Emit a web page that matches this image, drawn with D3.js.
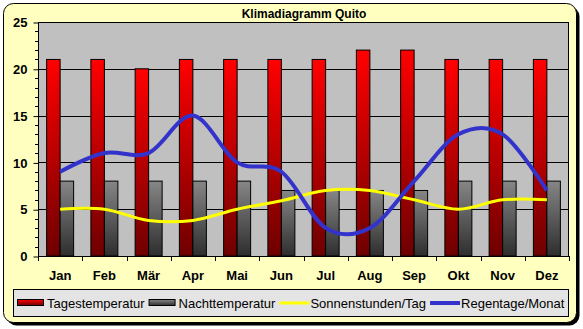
<!DOCTYPE html>
<html>
<head>
<meta charset="utf-8">
<script src="https://cdn.jsdelivr.net/npm/d3@7"></script>
<style>
  body { margin: 0; background: #ffffff; }
  svg text { font-family: "Liberation Sans", Arial, sans-serif; }
</style>
</head>
<body>
<div id="plot"></div>
<script>
var width = 583;
var height = 329;

// data
var months = ['Jan', 'Feb', 'Mär', 'Apr', 'Mai', 'Jun', 'Jul', 'Aug', 'Sep', 'Okt', 'Nov', 'Dez'];
var tagestemp = [21, 21, 20, 21, 21, 21, 21, 22, 22, 21, 21, 21];
var nachttemp = [8, 8, 8, 8, 8, 7, 7, 7, 7, 8, 8, 8];
var sonne = [5, 5, 3.8, 3.8, 5, 5.9, 7, 7, 6, 5, 6, 6];
var regen = [9, 11, 11, 15, 10, 9, 3, 3, 8, 13, 13, 7];
var yTicks = [0, 5, 10, 15, 20, 25];
var seriesNames = ['Tagestemperatur', 'Nachttemperatur', 'Sonnenstunden/Tag', 'Regentage/Monat'];

var plot = { left: 38, right: 569, top: 22, bottom: 256 };

var canvas = d3.select('#plot')
    .append('svg')
    .attr('width', width)
    .attr('height', height);

var defs = canvas.append('defs');
function vgrad(id, c1, c2) {
    var g = defs.append('linearGradient').attr('id', id)
        .attr('x1', 0).attr('y1', 0).attr('x2', 0).attr('y2', 1);
    g.append('stop').attr('offset', '0%').attr('stop-color', c1);
    g.append('stop').attr('offset', '100%').attr('stop-color', c2);
}
vgrad('gradRed', '#ff0000', '#6e0000');
vgrad('gradGrey', '#868686', '#2e2e2e');

// outer frame with shadow
canvas.append('rect')
    .attr('x', 6.5).attr('y', 6.5)
    .attr('width', 573).attr('height', 319)
    .attr('rx', 10)
    .attr('fill', '#000000');
canvas.append('rect')
    .attr('x', 3.5).attr('y', 3.5)
    .attr('width', 573).attr('height', 319)
    .attr('rx', 10)
    .attr('fill', '#ffffc0')
    .attr('stroke', '#000000')
    .attr('stroke-width', 1);

// title
canvas.append('text')
    .attr('x', 304).attr('y', 18)
    .attr('text-anchor', 'middle')
    .attr('font-size', 12)
    .attr('font-weight', 'bold')
    .text('Klimadiagramm Quito');

var x = d3.scaleBand()
    .domain(months)
    .range([plot.left, plot.right])
    .padding(0);

var y = d3.scaleLinear()
    .domain([0, 25])
    .range([plot.bottom, plot.top]);

// plot area
canvas.append('rect')
    .attr('x', plot.left).attr('y', plot.top)
    .attr('width', plot.right - plot.left)
    .attr('height', plot.bottom - plot.top)
    .attr('fill', '#c0c0c0');

// gridlines
canvas.selectAll('line.grid')
    .data(yTicks.slice(1, -1))
    .enter()
    .append('line')
    .attr('class', 'grid')
    .attr('x1', plot.left).attr('x2', plot.right)
    .attr('y1', function(d) { return Math.round(y(d)) + 0.5; })
    .attr('y2', function(d) { return Math.round(y(d)) + 0.5; })
    .attr('stroke', '#000000')
    .attr('stroke-width', 1);

var barW = 13.5;

// bars
canvas.selectAll('rect.tag')
    .data(tagestemp)
    .enter()
    .append('rect')
    .attr('class', 'tag')
    .attr('x', function(d, i) { return x(months[i]) + x.bandwidth() / 2 - barW; })
    .attr('y', function(d) { return y(d); })
    .attr('width', barW)
    .attr('height', function(d) { return y(0) - y(d); })
    .attr('fill', 'url(#gradRed)')
    .attr('stroke', '#000000')
    .attr('stroke-width', 1);

canvas.selectAll('rect.nacht')
    .data(nachttemp)
    .enter()
    .append('rect')
    .attr('class', 'nacht')
    .attr('x', function(d, i) { return x(months[i]) + x.bandwidth() / 2; })
    .attr('y', function(d) { return y(d); })
    .attr('width', barW)
    .attr('height', function(d) { return y(0) - y(d); })
    .attr('fill', 'url(#gradGrey)')
    .attr('stroke', '#000000')
    .attr('stroke-width', 1);

// smoothed lines
var line_gen = d3.line()
    .curve(d3.curveCardinal.tension(0))
    .x(function(d, i) { return x(months[i]) + x.bandwidth() / 2; })
    .y(function(d) { return y(d); });

canvas.append('path')
    .attr('d', line_gen(sonne))
    .attr('fill', 'none')
    .attr('stroke', '#ffff00')
    .attr('stroke-width', 3);

canvas.append('path')
    .attr('d', line_gen(regen))
    .attr('fill', 'none')
    .attr('stroke', '#3333cc')
    .attr('stroke-width', 4);

// plot border
canvas.append('rect')
    .attr('x', plot.left + 0.5).attr('y', plot.top + 0.5)
    .attr('width', plot.right - plot.left - 1)
    .attr('height', plot.bottom - plot.top)
    .attr('fill', 'none')
    .attr('stroke', '#000000')
    .attr('stroke-width', 1);

// y axis
var yAxis = d3.axisLeft(y)
    .tickValues(yTicks)
    .tickSize(5)
    .tickPadding(6)
    .tickFormat(d3.format('d'));
var yg = canvas.append('g')
    .attr('transform', 'translate(' + (plot.left + 0.5) + ',0.5)')
    .call(yAxis);
yg.select('.domain').remove();
yg.selectAll('text')
    .attr('font-size', 13)
    .attr('font-weight', 'bold')
    .attr('font-family', '"Liberation Sans", Arial, sans-serif')
    .attr('fill', '#000000');
yg.selectAll('line').attr('stroke', '#000000');

var minorTicks = d3.range(0, 26).filter(function(d) { return d % 5 !== 0; });
canvas.selectAll('line.minor')
    .data(minorTicks)
    .enter()
    .append('line')
    .attr('class', 'minor')
    .attr('x1', plot.left - 3).attr('x2', plot.left)
    .attr('y1', function(d) { return Math.round(y(d)) + 0.5; })
    .attr('y2', function(d) { return Math.round(y(d)) + 0.5; })
    .attr('stroke', '#000000');

// x axis
var xAxis = d3.axisBottom(x).tickSize(0).tickPadding(14);
var xg = canvas.append('g')
    .attr('transform', 'translate(0,' + (plot.bottom + 0.5) + ')')
    .call(xAxis);
xg.select('.domain').remove();
xg.selectAll('text')
    .attr('font-size', 13)
    .attr('font-weight', 'bold')
    .attr('font-family', '"Liberation Sans", Arial, sans-serif')
    .attr('fill', '#000000');

var bounds = months.map(function(m) { return x(m); }).concat([plot.right]);
canvas.selectAll('line.xtick')
    .data(bounds)
    .enter()
    .append('line')
    .attr('class', 'xtick')
    .attr('x1', function(d) { return Math.round(d) + 0.5; })
    .attr('x2', function(d) { return Math.round(d) + 0.5; })
    .attr('y1', plot.bottom)
    .attr('y2', plot.bottom + 5)
    .attr('stroke', '#000000');

// legend
canvas.append('rect')
    .attr('x', 13.5).attr('y', 289.5)
    .attr('width', 555).attr('height', 27)
    .attr('fill', '#e4e4e4')
    .attr('stroke', '#000000')
    .attr('stroke-width', 1);

var legendY = 303;
var lx = 17;
seriesNames.forEach(function(name, i) {
    var g = canvas.append('g').attr('class', 'legend');
    if (i < 2) {
        g.append('rect')
            .attr('x', lx + 0.5).attr('y', legendY - 3.5)
            .attr('width', 26).attr('height', 6)
            .attr('fill', i === 0 ? 'url(#gradRed)' : 'url(#gradGrey)')
            .attr('stroke', '#000000');
        lx += 30;
    } else {
        g.append('line')
            .attr('x1', lx).attr('x2', lx + 30)
            .attr('y1', legendY).attr('y2', legendY)
            .attr('stroke', i === 2 ? '#ffff00' : '#3333cc')
            .attr('stroke-width', i === 2 ? 3 : 4);
        lx += 31;
    }
    var t = g.append('text')
        .attr('x', lx)
        .attr('y', legendY + 5)
        .attr('font-size', 13)
        .attr('fill', '#000000')
        .text(name);
    lx += t.node().getComputedTextLength() + 4;
});
</script>
</body>
</html>
